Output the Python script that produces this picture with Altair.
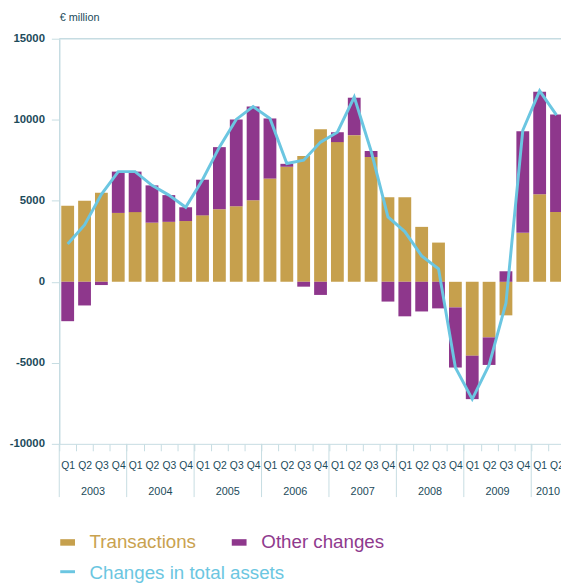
import altair as alt
import pandas as pd

# ---------------- data ----------------
years = ["2003", "2004", "2005", "2006", "2007", "2008", "2009", "2010"]
quarters = ["Q1", "Q2", "Q3", "Q4"]
n_quarters = 30  # 2003 Q1 .. 2010 Q2

transactions = [4700, 5000, 5500, 4250, 4300, 3650, 3700, 3750,
                4100, 4480, 4670, 5030, 6370, 7100, 7770, 9410,
                8620, 9050, 7700, 5210, 5210, 3390, 2420, -1580,
                -4560, -3430, -2070, 3020, 5400, 4300]
other_changes = [-2430, -1460, -200, 2550, 2500, 2300, 1650, 850,
                 2200, 3830, 5350, 5780, 3710, 180, -300, -810,
                 610, 2310, 370, -1220, -2130, -1830, -1640, -3710,
                 -2680, -1700, 650, 6270, 6330, 6020]
total_changes = [2330, 3510, 5400, 6800, 6800, 5950, 5350, 4600,
                 6300, 8310, 10020, 10810, 10080, 7300, 7500, 8620,
                 9230, 11400, 8070, 4000, 3100, 1600, 800, -5290,
                 -7240, -5130, -1320, 9350, 11780, 10280]

series_names = ["Transactions", "Other changes"]
legend_line_name = "Changes in total assets"

# ---------------- styles ----------------
TAN = "#C6A04D"
PURPLE = "#8E378C"
CYAN = "#6BC6E1"
AXIS = "#C6DCE2"
TEXT = "#1C4B5B"
FONT = "Liberation Sans"

keys = [f"{y} {q}" for y in years for q in quarters][:n_quarters]

rows = []
for k, t, o in zip(keys, transactions, other_changes):
    rows.append({"key": k, "series": series_names[0], "value": t, "order": 0})
    rows.append({"key": k, "series": series_names[1], "value": o, "order": 1})
bars_df = pd.DataFrame(rows)
line_df = pd.DataFrame({"key": keys, "total": total_changes})

year_rows = []
for y in years:
    qs = [k for k in keys if k.startswith(y)]
    year_rows.append({"year": y, "first": qs[0], "anchor": qs[len(qs) // 2]})
year_df = pd.DataFrame(year_rows)

PLOT_H = 411
x_scale = alt.Scale(domain=keys, range=[0, 513], paddingInner=0, paddingOuter=0)
y_scale = alt.Scale(domain=[-10000, 15000], nice=False, zero=False)

x_axis = alt.Axis(
    title=None, labelAngle=0, labelExpr="split(datum.value, ' ')[1]",
    labelFont=FONT, labelFontSize=10.5, labelColor=TEXT,
    labelBaseline="alphabetic", labelPadding=18,
    tickBand="extent", tickSize=7, tickColor=AXIS, tickWidth=1,
    domainColor=AXIS, domainWidth=1, grid=False, labelOverlap=False,
)
y_axis = alt.Axis(
    title="€ million", titleAngle=0, titleAlign="left", titleBaseline="alphabetic",
    titleX=0, titleY=-18, titleFont=FONT, titleFontSize=11, titleFontWeight="normal",
    titleColor=TEXT,
    values=[-10000, -5000, 0, 5000, 10000, 15000], labelExpr="'' + datum.value",
    labelFont=FONT, labelFontSize=11.5, labelFontWeight="bold", labelColor=TEXT,
    labelPadding=7, tickSize=8, tickColor=AXIS, domainColor=AXIS, domainWidth=1.5,
    grid=False,
)

bars = alt.Chart(bars_df).mark_bar(width=alt.RelativeBandSize(0.76)).encode(
    x=alt.X("key:O", scale=x_scale, axis=x_axis, sort=keys),
    y=alt.Y("value:Q", stack="zero", scale=y_scale, axis=y_axis),
    color=alt.Color("series:N", scale=alt.Scale(domain=series_names, range=[TAN, PURPLE]), legend=None),
    order=alt.Order("order:Q"),
)

line = alt.Chart(line_df).mark_line(color=CYAN, strokeWidth=3).encode(
    x=alt.X("key:O", scale=x_scale, axis=x_axis, sort=keys),
    y=alt.Y("total:Q", scale=y_scale, axis=y_axis),
)

separators = alt.Chart(year_df).mark_rule(color=AXIS, strokeWidth=1).encode(
    x=alt.X("first:O", scale=x_scale, bandPosition=0, axis=x_axis),
    y=alt.value(PLOT_H),
    y2=alt.value(465),
)

year_labels = alt.Chart(year_df).mark_text(
    font=FONT, fontSize=11, color=TEXT, baseline="alphabetic", align="center"
).encode(
    x=alt.X("anchor:O", scale=x_scale, bandPosition=0, axis=x_axis),
    y=alt.value(462.7),
    text="year:N",
)

# top frame line of the plot area (at the 15000 level)
top_frame = alt.Chart(pd.DataFrame({"c": [0]})).mark_rule(color=AXIS, strokeWidth=1.5).encode(
    x=alt.value(0), x2=alt.value(513), y=alt.value(0)
)

# ---------------- legend ----------------
def legend_text(label, color, x, y):
    return alt.Chart(pd.DataFrame({"label": [label]})).mark_text(
        font=FONT, fontSize=19, color=color, align="left", baseline="alphabetic"
    ).encode(x=alt.value(x), y=alt.value(y), text="label:N")

def legend_box(color, x, y):
    return alt.Chart(pd.DataFrame({"c": [color]})).mark_rect(color=color).encode(
        x=alt.value(x), x2=alt.value(x + 15), y=alt.value(y), y2=alt.value(y + 6.6)
    )

leg_line = alt.Chart(pd.DataFrame({"c": [CYAN]})).mark_rule(color=CYAN, strokeWidth=3).encode(
    x=alt.value(1), x2=alt.value(16), y=alt.value(540.7)
)

chart = alt.layer(
    bars, line, separators, year_labels, top_frame,
    legend_box(TAN, 1, 507.7), legend_text(series_names[0], "#C9A24F", 30.7, 516.7),
    legend_box(PURPLE, 175, 507.7), legend_text(series_names[1], "#8F3A8E", 205, 516.7),
    leg_line, legend_text(legend_line_name, CYAN, 30.7, 548.5),
).properties(
    width=509, height=PLOT_H,
    autosize=alt.AutoSizeParams(type="none"),
    padding={"left": 52, "top": 27, "right": 0, "bottom": 138},
    background="white",
).configure_view(stroke=None)

chart.save("out.html", embed_options={"renderer": "svg", "actions": False})
